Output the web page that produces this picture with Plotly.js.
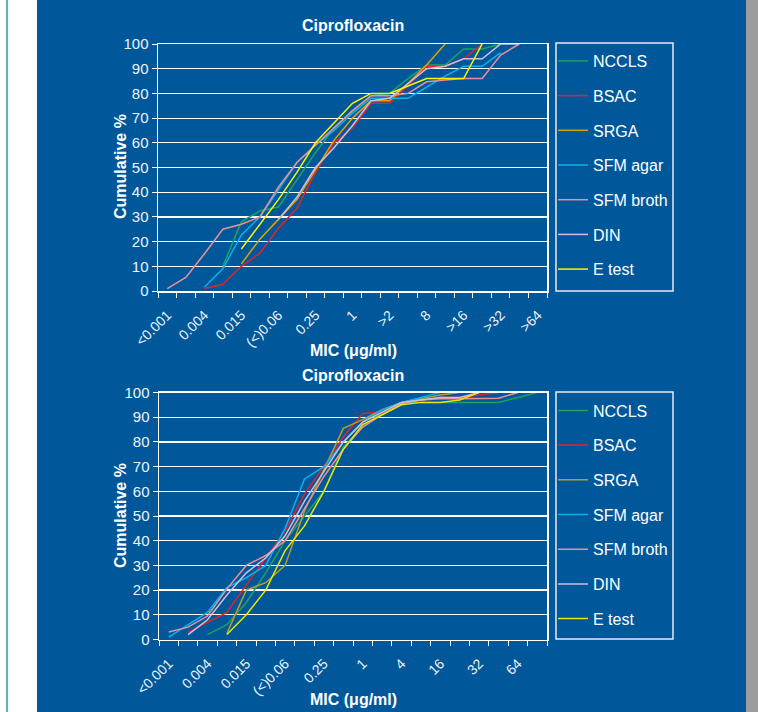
<!DOCTYPE html>
<html><head><meta charset="utf-8">
<script src="https://cdn.plot.ly/plotly-3.0.1.min.js"></script>
<style>html,body{margin:0;padding:0;background:#fff}#chart{width:758px;height:712px}</style>
</head><body><div id="chart"></div>
<script>
// ---------- DATA ----------
const seriesNames = ['NCCLS','BSAC','SRGA','SFM agar','SFM broth','DIN','E test'];

// Top chart: MIC categories (21) and displayed tick labels
const catsTop = ['<0.001','0.002','0.004','0.008','0.015','0.03','(<)0.06','0.12','0.25','0.5','1','2','>2','4','8','16','>16','32','>32','64','>64'];
const tickLabelsTop = ['<0.001','','0.004','','0.015','','(<)0.06','','0.25','','1','','>2','','8','','>16','','>32','','>64'];

const ncclsTop    = [null,null,null,10,28,32.5,34,45,56,66,73,79,80,86,91.5,91.5,98,98,100,null,null];
const bsacTop     = [null,null,1,2.7,10,15.3,25.4,33.5,48,60,66,76,76,83,91,91,94,100,null,null,null];
const srgaTop     = [null,null,null,null,11,21,29,37,49,61,70,77,77,84,91.5,100,null,null,null,null,null];
const sfmAgarTop  = [null,null,1.5,9,22.7,30,41,52,59,65,72,78,78,78,82.5,87,91,91,96.5,null,null];
const sfmBrothTop = [1,5.5,15,25,27,30,42,52,59,66,73,79,79,80,84.7,85.4,86,86,95.5,100,null];
const dinTop      = [null,null,null,null,null,null,29,38,50,58,67,77,78,84,90,91,94,94,100,100,null];
const eTestTop    = [null,null,null,null,17,27,37,48,60,68,76,80,80,83,86,86,86,100,null,null,null];

// Bottom chart: MIC categories (20) and displayed tick labels
const catsBottom = ['<0.001','0.002','0.004','0.008','0.015','0.03','(<)0.06','0.12','0.25','0.5','1','2','4','8','16','>16','32','>32','64','>64'];
const tickLabelsBottom = ['<0.001','','0.004','','0.015','','(<)0.06','','0.25','','1','','4','','16','','32','','64',''];

const ncclsBottom    = [null,null,2,6,15,27,40,50,60,78,86,92,96,96,96,96,96,96,98,100];
const bsacBottom     = [null,3,7,11,22,33,44,59,70,82,91.5,92,96,97,98,98,99,100,null,null];
const srgaBottom     = [null,null,null,2.5,20,23,30,52,69,85.5,89,93,96,97.5,99,100,null,null,null,null];
const sfmAgarBottom  = [1,6,11,21,25,30,45,65,70,80,88,93,96,98,100,null,null,null,null,null];
const sfmBrothBottom = [3,5,9.5,20.5,30,34,40,53,66,77,86,91,95.5,97,97.5,97.5,97.5,97.7,100,null];
const dinBottom      = [null,2,8,18,27,33,42,56,68,80,88,92,96,97,98,98,100,null,null,null];
const eTestBottom    = [null,null,null,2,10,20,36,46,60,77,87,91,95,96,96,97,100,null,null,null];

const topSeries = [ncclsTop,bsacTop,srgaTop,sfmAgarTop,sfmBrothTop,dinTop,eTestTop];
const bottomSeries = [ncclsBottom,bsacBottom,srgaBottom,sfmAgarBottom,sfmBrothBottom,dinBottom,eTestBottom];

// ---------- STYLE ----------
const colorsTop    = ['#1ba35e','#e3222b','#e0a100','#0cb0ea','#e8909c','#cdbfe0','#fff200'];
const colorsBottom = ['#1ba35e','#e3222b','#b89b2e','#0cb0ea','#e8909c','#cdbfe0','#e6e600'];
const W = 758, H = 712;
const FONT = 'Arial, "Liberation Sans", sans-serif';
const BLUE = 'rgb(0,88,155)';
const TXT = '#eef3f9';
const BOX = '#e4ecf4';

const traces = [];
seriesNames.forEach((name, k) => {
  traces.push({
    type: 'scatter', mode: 'lines', name: name,
    x: catsTop, y: topSeries[k], xaxis: 'x', yaxis: 'y',
    legend: 'legend', legendgroup: 'top' + k,
    line: {color: colorsTop[k], width: 1.5}, connectgaps: false
  });
});
seriesNames.forEach((name, k) => {
  traces.push({
    type: 'scatter', mode: 'lines', name: name,
    x: catsBottom, y: bottomSeries[k], xaxis: 'x2', yaxis: 'y2',
    legend: 'legend2', legendgroup: 'bot' + k,
    line: {color: colorsBottom[k], width: 1.5}, connectgaps: false
  });
});

function xAxis(cats, labels, dom, anchor) {
  return {
    type: 'category', categoryorder: 'array', categoryarray: cats,
    domain: dom, anchor: anchor, range: [-0.5, cats.length - 0.5],
    tickmode: 'array', tickvals: cats, ticktext: labels,
    tickson: 'boundaries', ticks: 'outside', ticklen: 5, tickwidth: 1, tickcolor: '#ffffff',
    tickangle: -45, ticklabelstandoff: 9,
    tickfont: {family: FONT, size: 14, color: TXT},
    showgrid: false, showline: true, linecolor: '#ffffff', linewidth: 1.5, mirror: true,
    zeroline: false, fixedrange: true
  };
}
function yAxis(dom, anchor) {
  return {
    domain: dom, anchor: anchor, range: [0, 100], dtick: 10, tick0: 0,
    ticks: 'outside', ticklen: 5, tickwidth: 1, tickcolor: '#ffffff',
    tickfont: {family: FONT, size: 15, color: TXT},
    showgrid: true, gridcolor: '#ffffff', gridwidth: 1.2,
    showline: true, linecolor: '#ffffff', linewidth: 1.5, mirror: true,
    zeroline: false, fixedrange: true
  };
}
function legendBox(topPx) {
  return {
    x: 553 / W, y: 1 - topPx / H, xanchor: 'left', yanchor: 'top',
    bgcolor: 'rgba(0,0,0,0)', borderwidth: 0,
    font: {family: FONT, size: 16, color: '#ffffff'},
    traceorder: 'grouped', tracegroupgap: 10.9, itemclick: false, itemdoubleclick: false
  };
}
function ann(text, xPx, yPx, opts) {
  return Object.assign({
    text: text, xref: 'paper', yref: 'paper', x: xPx / W, y: 1 - yPx / H,
    xanchor: 'center', yanchor: 'middle', showarrow: false,
    font: {family: FONT, size: 16, color: '#ffffff', weight: 'bold'}
  }, opts || {});
}
function boxShape(x0, y0, x1, y1) {
  return {type: 'rect', xref: 'paper', yref: 'paper',
    x0: x0 / W, x1: x1 / W, y0: 1 - y1 / H, y1: 1 - y0 / H,
    fillcolor: 'rgba(0,0,0,0)', line: {color: BOX, width: 1.5}, layer: 'above'};
}

const layout = {
  width: W, height: H, margin: {l: 0, r: 0, t: 0, b: 0},
  paper_bgcolor: '#ffffff', plot_bgcolor: 'rgba(0,0,0,0)',
  showlegend: true,
  xaxis: xAxis(catsTop, tickLabelsTop, [158 / W, 547 / W], 'y'),
  yaxis: yAxis([(H - 291) / H, (H - 44) / H], 'x'),
  xaxis2: xAxis(catsBottom, tickLabelsBottom, [159 / W, 547 / W], 'y2'),
  yaxis2: yAxis([(H - 639.5) / H, (H - 392.5) / H], 'x2'),
  legend: legendBox(44),
  legend2: legendBox(393.5),
  shapes: [
    {type: 'rect', xref: 'paper', yref: 'paper', x0: 37 / W, x1: 746 / W, y0: 0, y1: 1,
     fillcolor: BLUE, line: {width: 0}, layer: 'below'},
    {type: 'rect', xref: 'paper', yref: 'paper', x0: 746 / W, x1: 1, y0: 0, y1: 1,
     fillcolor: '#9c9c9c', line: {width: 0}, layer: 'below'},
    {type: 'line', xref: 'paper', yref: 'paper', x0: 7 / W, x1: 7 / W, y0: 0, y1: 1,
     line: {color: '#5cb8a8', width: 2}, layer: 'below'},
    boxShape(556, 43, 673, 291),
    boxShape(556, 392, 673, 639)
  ],
  annotations: [
    ann('Ciprofloxacin', 353, 25),
    ann('Ciprofloxacin', 353, 375),
    ann('MIC (μg/ml)', 353, 350),
    ann('MIC (μg/ml)', 353, 699),
    ann('Cumulative %', 120, 167, {textangle: -90}),
    ann('Cumulative %', 120, 516, {textangle: -90})
  ]
};

Plotly.newPlot('chart', traces, layout, {staticPlot: true, displayModeBar: false});
</script>
</body></html>
